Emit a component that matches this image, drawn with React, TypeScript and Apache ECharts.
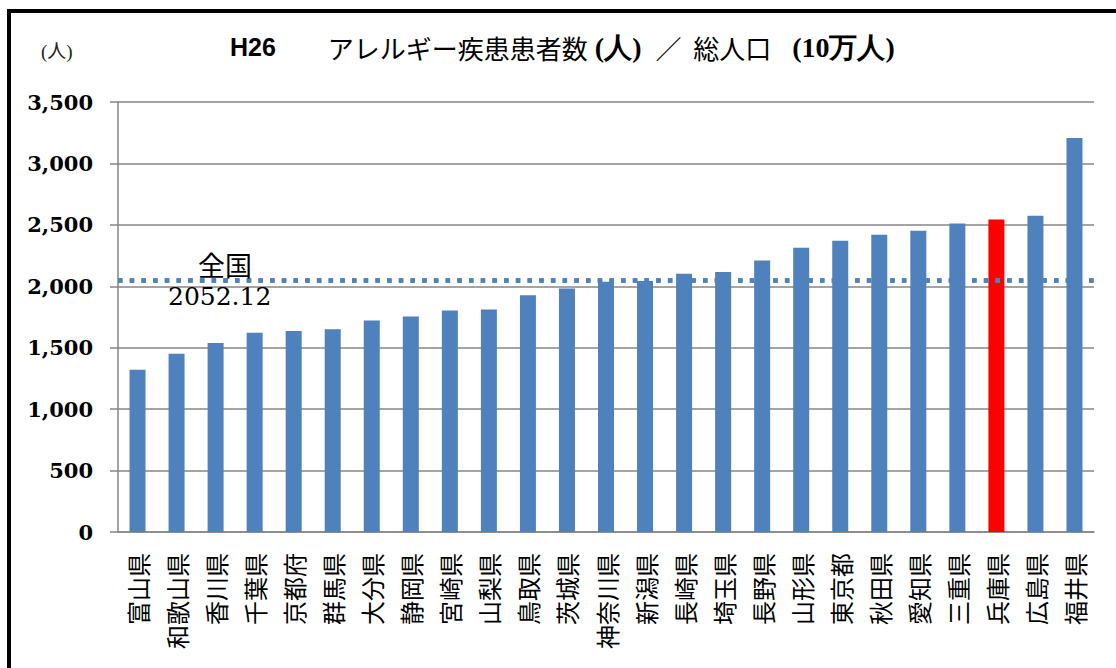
import React, { useEffect, useRef } from 'react';
import * as echarts from 'echarts';

const categories = [
  '富山県', '和歌山県', '香川県', '千葉県', '京都府', '群馬県', '大分県', '静岡県', '宮崎県',
  '山梨県', '鳥取県', '茨城県', '神奈川県', '新潟県', '長崎県', '埼玉県', '長野県', '山形県',
  '東京都', '秋田県', '愛知県', '三重県', '兵庫県', '広島県', '福井県',
];
const values = [
  1321, 1450, 1539, 1621, 1637, 1650, 1721, 1754, 1803, 1811, 1928, 1982, 2036, 2044, 2103,
  2117, 2209, 2314, 2371, 2420, 2452, 2512, 2544, 2574, 3207,
];
const highlighted = '兵庫県';
const nationalAverage = 2052.12;
const nationalName = '全国';

const BLUE = '#4f81bd';
const GRID = '#868686';
const CJK = '"Noto Sans CJK JP", sans-serif';

const App: React.FC = () => {
  const chartRef = useRef<HTMLDivElement>(null);

  useEffect(() => {
    if (!chartRef.current) return;
    const chart = echarts.init(chartRef.current, undefined, { renderer: 'svg' });

    const option = {
      animation: false,
      title: {
        text: '{h|H26}{j|　　アレルギー疾患患者数}{p| (人)  }{j|／  総人口}{p|   (10万人)}',
        left: 230,
        top: 33,
        padding: 0,
        textStyle: {
          fontWeight: 'normal',
          rich: {
            h: { fontFamily: 'Liberation Sans, Arial', fontWeight: 'bold', fontSize: 25, lineHeight: 28, color: '#000' },
            j: { fontFamily: CJK, fontWeight: 'normal', fontSize: 26, lineHeight: 28, color: '#000' },
            p: { fontFamily: '"Liberation Serif", serif', fontWeight: 'bold', fontSize: 28, lineHeight: 28, color: '#000' },
          },
        },
      },
      graphic: [
        {
          type: 'text',
          left: 41,
          top: 42,
          style: { text: '(人)', font: '19px "Liberation Serif", "Noto Sans CJK JP"', fill: '#222' },
        },
      ],
      grid: { left: 118, right: 22, top: 102, bottom: 136, containLabel: false },
      xAxis: {
        type: 'category',
        data: categories,
        axisLine: { lineStyle: { color: GRID, width: 1.5 } },
        axisTick: { length: 8, lineStyle: { color: GRID, width: 1.5 } },
        axisLabel: {
          rotate: 90,
          margin: 21,
          interval: 0,
          fontFamily: CJK,
          fontSize: 24,
          color: '#000',
        },
      },
      yAxis: {
        type: 'value',
        min: 0,
        max: 3500,
        interval: 500,
        axisLine: { show: true, lineStyle: { color: GRID, width: 1.5 } },
        axisTick: { show: true, length: 8, lineStyle: { color: GRID, width: 1.5 } },
        splitLine: { lineStyle: { color: GRID, width: 1.5 } },
        axisLabel: {
          margin: 25,
          fontFamily: '"DejaVu Serif", serif',
          fontWeight: 'bold',
          fontSize: 21,
          color: '#000',
          formatter: (v: number) => v.toLocaleString('en-US'),
        },
      },
      series: [
        {
          type: 'bar',
          barWidth: 16,
          data: values.map((v, i) => ({
            value: v,
            itemStyle: { color: categories[i] === highlighted ? '#ff0000' : BLUE },
          })),
          markLine: {
            silent: true,
            symbol: 'none',
            lineStyle: { color: BLUE, width: 4.5, type: [4.5, 7.2], cap: 'butt' },
            data: [
              {
                yAxis: nationalAverage,
                label: {
                  position: 'insideStartTop',
                  distance: [80, 2],
                  formatter: nationalName,
                  fontFamily: CJK,
                  fontSize: 27,
                  color: '#000',
                },
              },
              {
                yAxis: nationalAverage,
                label: {
                  position: 'insideStartBottom',
                  distance: [50, 4],
                  formatter: String(nationalAverage),
                  fontFamily: '"DejaVu Serif", serif',
                  fontSize: 25,
                  color: '#000',
                },
              },
            ],
          },
        },
      ],
    };

    chart.setOption(option);
    return () => {
      chart.dispose();
    };
  }, []);

  return (
    <div style={{ position: 'fixed', left: 0, top: 0, width: 1116, height: 668, overflow: 'hidden', background: '#fff' }}>
      <div
        style={{
          position: 'absolute',
          left: 7,
          top: 9,
          width: 1200,
          height: 700,
          borderLeft: '4px solid #000',
          borderTop: '4px solid #000',
        }}
      />
      <div ref={chartRef} style={{ position: 'absolute', left: 0, top: 0, width: 1116, height: 668 }} />
    </div>
  );
};

export default App;
